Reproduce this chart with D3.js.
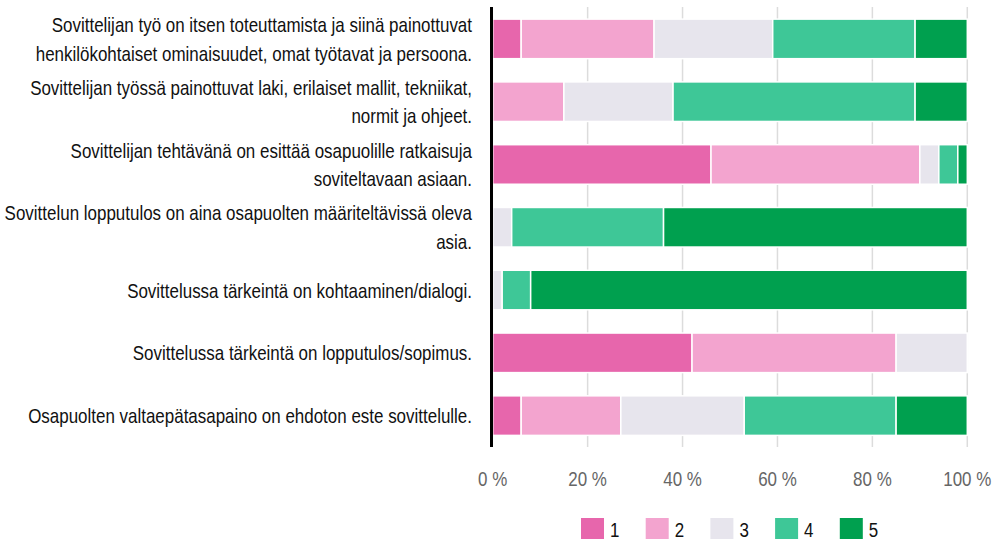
<!DOCTYPE html>
<html><head><meta charset="utf-8">
<script src="https://cdn.jsdelivr.net/npm/d3@7"></script>
<style>
body{margin:0;background:#fff;}
svg{display:block;font-family:"Liberation Sans",Arial,sans-serif;}
</style></head>
<body><svg id="c" width="994" height="539"></svg>
<script>
const categories = [
  "Sovittelijan työ on itsen toteuttamista ja siinä painottuvat\nhenkilökohtaiset ominaisuudet, omat työtavat ja persoona.",
  "Sovittelijan työssä painottuvat laki, erilaiset mallit, tekniikat,\nnormit ja ohjeet.",
  "Sovittelijan tehtävänä on esittää osapuolille ratkaisuja\nsoviteltavaan asiaan.",
  "Sovittelun lopputulos on aina osapuolten määriteltävissä oleva\nasia.",
  "Sovittelussa tärkeintä on kohtaaminen/dialogi.",
  "Sovittelussa tärkeintä on lopputulos/sopimus.",
  "Osapuolten valtaepätasapaino on ehdoton este sovittelulle."
];
const seriesNames = ["1","2","3","4","5"];
const s1 = [6, 0, 46, 0, 0, 42, 6];
const s2 = [28, 15, 44, 0, 0, 43, 21];
const s3 = [25, 23, 4, 4, 2, 15, 26];
const s4 = [30, 51, 4, 32, 6, 0, 32];
const s5 = [11, 11, 2, 64, 92, 0, 15];
const tickValues = [0, 20, 40, 60, 80, 100];
const colors = ["#e766ac", "#f3a4cf", "#e7e5ed", "#3ec797", "#00a04f"];

const seriesVals = [s1, s2, s3, s4, s5];
const data = categories.map((c, i) => {
  const o = {cat: c};
  seriesNames.forEach((s, j) => o[s] = seriesVals[j][i]);
  return o;
});
const stack = d3.stack().keys(seriesNames)(data);

const svg = d3.select("#c");
const x = d3.scaleLinear().domain([0, 100]).range([492.7, 967.3]);
const y = d3.scaleBand().domain(categories).range([7.5, 447]).paddingInner(0.37).paddingOuter(0.185);

// measure condensation factor
const FS = 20.5;
const probe = svg.append("text").attr("font-size", FS).text(categories[0].split("\n")[0]);
const w1 = probe.node().getComputedTextLength();
probe.text(categories[3].split("\n")[0]);
const w4 = probe.node().getComputedTextLength();
probe.remove();
const k = (426 / w1 + 462 / w4) / 2;

// gridlines
svg.append("g").selectAll("line").data(tickValues.slice(1)).join("line")
  .attr("x1", d => x(d)).attr("x2", d => x(d))
  .attr("y1", 7).attr("y2", 447)
  .attr("stroke", "#dcdcdc").attr("stroke-width", 1.5);

// bars
svg.append("g").selectAll("g").data(stack).join("g")
  .attr("fill", (d, i) => colors[i])
  .selectAll("rect").data(d => d.filter(p => p[1] - p[0] > 0)).join("rect")
  .attr("x", d => x(d[0]))
  .attr("width", d => x(d[1]) - x(d[0]))
  .attr("y", d => y(d.data.cat))
  .attr("height", y.bandwidth())
  .attr("stroke", "#fff").attr("stroke-width", 1.5);

// axis line
svg.append("line").attr("x1", 491.5).attr("x2", 491.5).attr("y1", 7).attr("y2", 447)
  .attr("stroke", "#000").attr("stroke-width", 3);

// tick labels
svg.append("g").selectAll("text").data(tickValues).join("text")
  .attr("transform", d => `translate(${x(d)},486) scale(${k},1)`)
  .attr("text-anchor", "middle").attr("fill", "#666").attr("font-size", FS)
  .text(d => d + " %");

// category labels
const lab = svg.append("g").selectAll("text").data(categories).join("text")
  .attr("transform", `translate(472,0) scale(${k},1)`)
  .attr("text-anchor", "end").attr("fill", "#111").attr("font-size", FS);
lab.each(function(d) {
  const lines = d.split("\n");
  const cy = y(d) + y.bandwidth() / 2;
  const lh = 28.5;
  d3.select(this).selectAll("tspan").data(lines).join("tspan")
    .attr("x", 0)
    .attr("y", (l, i) => cy + (i - (lines.length - 1) / 2) * lh + 7.5)
    .text(l => l);
});

// legend
const lg = svg.append("g").selectAll("g").data(seriesNames).join("g")
  .attr("transform", (d, i) => `translate(${581 + i * 64.7},518)`);
lg.append("rect").attr("width", 23).attr("height", 22).attr("fill", (d, i) => colors[i]);
lg.append("text").attr("transform", `translate(29,18.5) scale(${k},1)`)
  .attr("font-size", FS).attr("fill", "#111").text(d => d);
</script></body></html>
